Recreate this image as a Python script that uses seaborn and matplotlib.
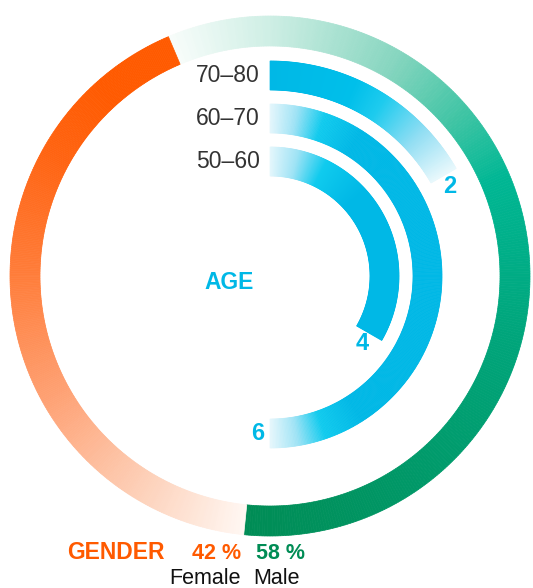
import numpy as np
import matplotlib
matplotlib.use("Agg")
import matplotlib.pyplot as plt
import seaborn as sns
from matplotlib.colors import LinearSegmentedColormap

# ---------------- data ----------------
age_groups = ["70–80", "60–70", "50–60"]
age_values = [2, 6, 4]
age_scale_max = 12
gender_labels = ["Female", "Male"]
gender_values = [42, 58]

# ---------------- style ----------------
sns.set_theme(style="white")
plt.rcParams['font.family'] = ['Liberation Sans', 'DejaVu Sans']

CYAN = "#00B8E6"
ORANGE = "#FF5A00"
GREEN = "#008C55"

W, H = 533, 588
fig = plt.figure(figsize=(W / 100, H / 100), dpi=100)
cx, cy, R = 270, 276, 262
ax = fig.add_axes([(cx - R) / W, (H - cy - R) / H, 2 * R / W, 2 * R / H],
                  projection='polar')
ax.set_theta_zero_location('N')
ax.set_theta_direction(-1)
ax.set_ylim(0, R)
ax.axis('off')

male_cmap = LinearSegmentedColormap.from_list("male", [
    (0.00, "#F7FCFA"), (0.11, "#CDEEE4"), (0.25, "#88D6C0"),
    (0.35, "#3EC4A4"), (0.43, "#00B794"), (0.60, "#00A67C"), (1.00, "#008C55")])
female_cmap = LinearSegmentedColormap.from_list("female", [
    (0.00, "#FFF7F2"), (0.16, "#FDD2BB"), (0.36, "#FEA275"),
    (0.56, "#FF7D3A"), (0.75, "#FF6412"), (0.88, "#FF5A00"), (1.00, "#FF5A00")])
top_cmap = LinearSegmentedColormap.from_list("top", [
    (0.00, "#00B8E6"), (0.40, "#00BFEA"), (0.55, "#1ECBEE"),
    (0.78, "#92DEF3"), (1.00, "#E8F8FC")])
side_cmap = LinearSegmentedColormap.from_list("side", [
    (0.00, "#E6F7FC"), (0.30, "#9FE3F5"), (0.60, "#10CBEE"), (1.00, "#00B8E6")])


def grad_arc(start_deg, end_deg, r0, r1, color_fn, n=360):
    edges = np.radians(np.linspace(start_deg, end_deg, n + 1))
    mids = (edges[:-1] + edges[1:]) / 2
    widths = np.diff(edges)
    cols = [color_fn(i / (n - 1), m) for i, m in enumerate(mids)]
    ax.bar(mids, r1 - r0, width=widths, bottom=r0, color=cols,
           edgecolor=cols, linewidth=0.5, align='center')


# ---------------- gender ring ----------------
start = -23.0
female_share, male_share = gender_values
male_end = start + male_share / 100 * 360
female_end = male_end + female_share / 100 * 360
grad_arc(start, male_end, 230, 260, lambda t, m: male_cmap(t))
grad_arc(male_end, female_end, 230, 260, lambda t, m: female_cmap(t))

# ---------------- age bars ----------------
radii = [(186, 215), (143, 172), (100, 129)]
for i, (grp, val) in enumerate(zip(age_groups, age_values)):
    r0, r1 = radii[i]
    rm = (r0 + r1) / 2
    end = val / age_scale_max * 360
    if i == 0:
        grad_arc(0, end, r0, r1, lambda t, m: top_cmap(t))
    else:
        grad_arc(0, end, r0, r1,
                 lambda t, m, rm=rm: side_cmap(np.clip(rm * np.sin(m) / 85, 0, 1)))
    ax.annotate(grp, xy=(0, rm), xytext=(-10, 0), textcoords='offset pixels',
                ha='right', va='center', fontsize=16.5, color="#333333")
    ax.text(np.radians(end) + 12 / rm, rm, str(val), ha='center', va='center',
            fontsize=17, fontweight='bold', color=CYAN)

# ---------------- texts ----------------
def fx(x):
    return x / W


def fy(y):
    return (H - y) / H


fig.text(fx(204), fy(289), "AGE", ha='left', va='baseline', fontsize=16.5,
         fontweight='bold', color=CYAN)
fig.text(fx(67), fy(559), "GENDER", ha='left', va='baseline', fontsize=16.5,
         fontweight='bold', color=ORANGE)
fig.text(fx(241), fy(559), f"{female_share} %", ha='right', va='baseline',
         fontsize=15.5, fontweight='bold', color=ORANGE)
fig.text(fx(256), fy(559), f"{male_share} %", ha='left', va='baseline',
         fontsize=15.5, fontweight='bold', color=GREEN)
fig.text(fx(241), fy(584), gender_labels[0], ha='right', va='baseline',
         fontsize=15.5, color="#111111")
fig.text(fx(253), fy(584), gender_labels[1], ha='left', va='baseline',
         fontsize=15.5, color="#111111")

fig.savefig("out.png", dpi=100, facecolor="white")
